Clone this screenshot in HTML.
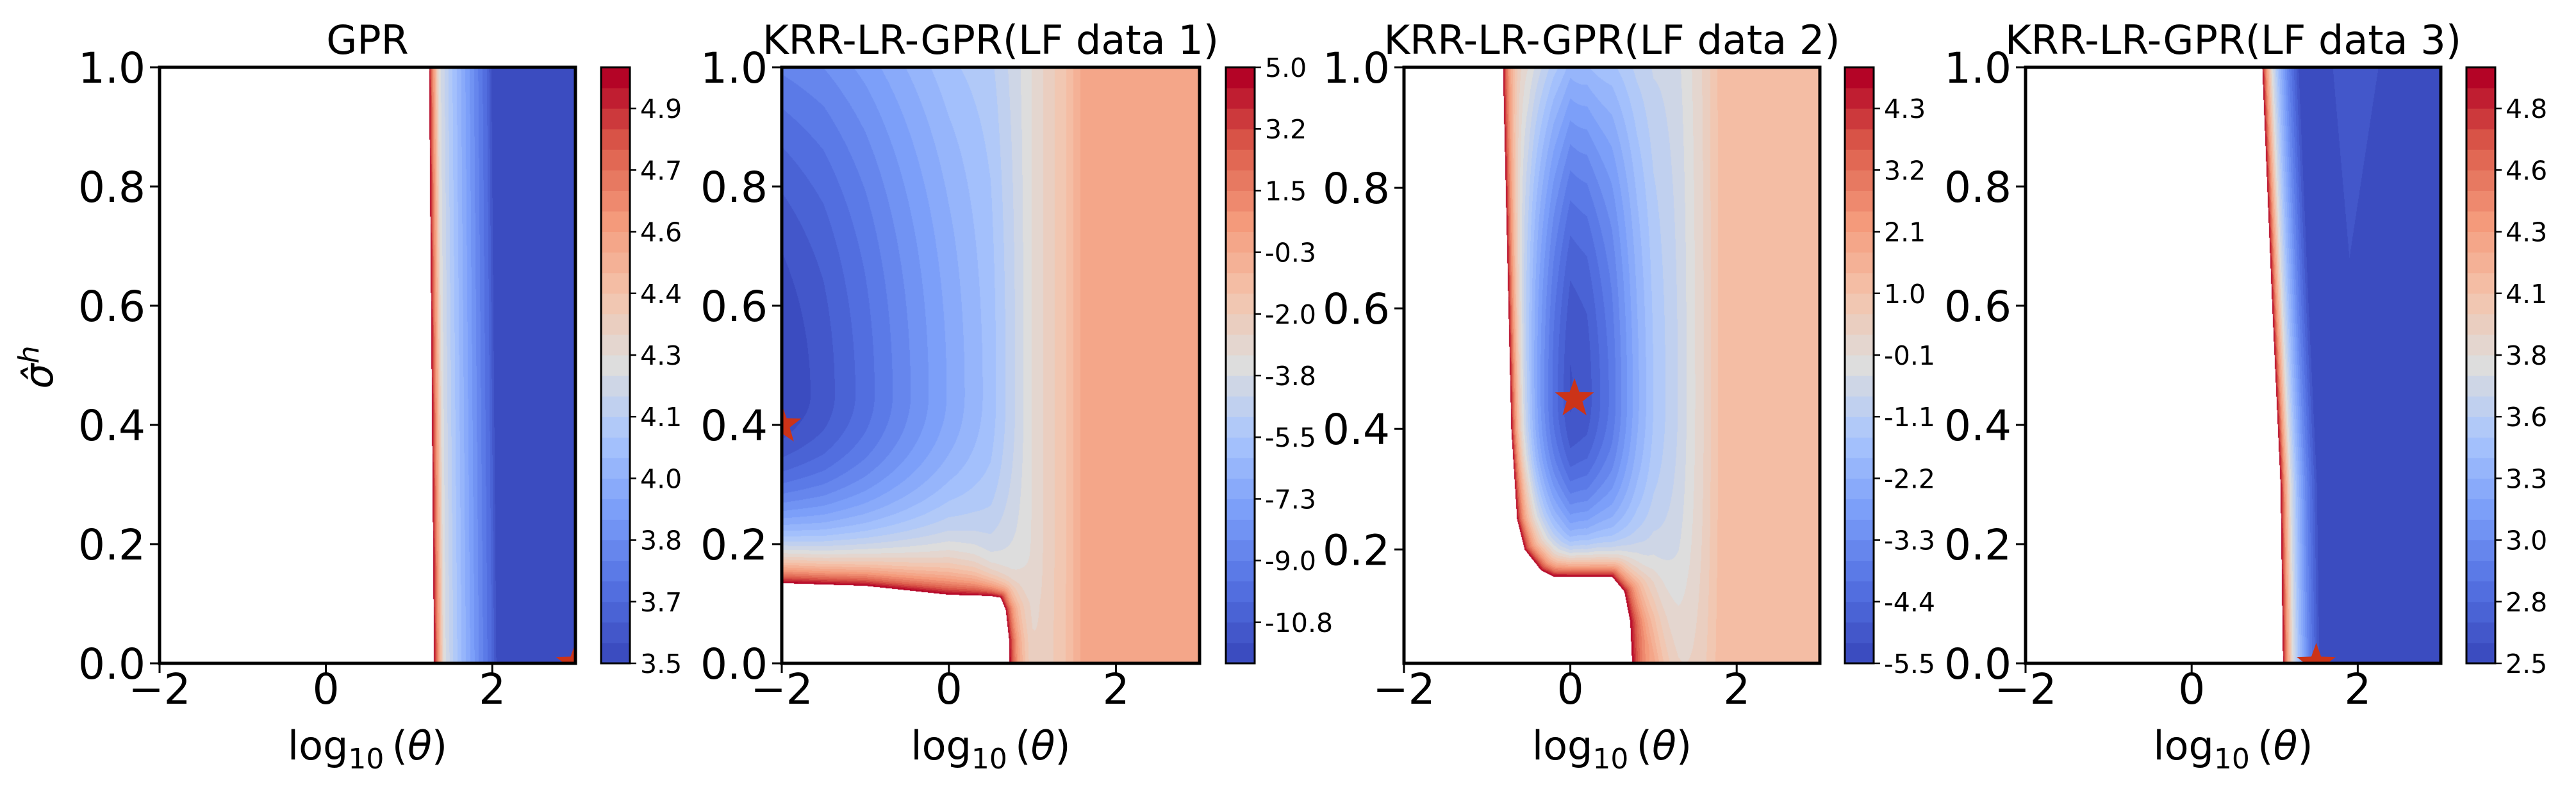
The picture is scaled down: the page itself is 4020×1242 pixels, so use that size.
<!DOCTYPE html>
<html><head><meta charset="utf-8"><style>
body{margin:0;background:#fff;}
#wrap{position:relative;width:4020px;height:1242px;overflow:hidden;background:#fff;}
canvas{position:absolute;}
svg{position:absolute;left:0;top:0;}
text{font-family:"DejaVu Sans","Liberation Sans",sans-serif;fill:#000;}
</style></head><body>
<div id="wrap">
<svg id="svg" width="4020" height="1242"></svg>
</div>
<script>
// ---- data ----
const titles = ["GPR","KRR-LR-GPR(LF data 1)","KRR-LR-GPR(LF data 2)","KRR-LR-GPR(LF data 3)"];
const xTicks = [-2,0,2];
const xTickLabels = ["\u22122","0","2"];
const yTicksA = [0,0.2,0.4,0.6,0.8,1.0];
const yTicksB = [0.2,0.4,0.6,0.8,1.0];
const yMins = [0,0,0.011,0];
const cbLabels1 = ["3.5","3.7","3.8","4.0","4.1","4.3","4.4","4.6","4.7","4.9"];
const cbLabels2 = ["-10.8","-9.0","-7.3","-5.5","-3.8","-2.0","-0.3","1.5","3.2","5.0"];
const cbLabels3 = ["-5.5","-4.4","-3.3","-2.2","-1.1","-0.1","1.0","2.1","3.2","4.3"];
const cbLabels4 = ["2.5","2.8","3.0","3.3","3.6","3.8","4.1","4.3","4.6","4.8"];
const nLevels = 29;
// panel 1 profile
const p1Dx = [0,0.04,0.12,0.25,0.4,0.55,0.7,0.76,3];
const p1V  = [1.0,0.8,0.5,0.4,0.3,0.2,0.1,0.02,0.02];
const p1By = [0,1]; const p1Bx = [1.3,1.24];
// panel 2
const p2X = [-2,-1.5,-1,-0.5,0,0.5,0.8,1.0,1.2,1.4,1.6,3];
const p2V = [0.0,0.05,0.12,0.2,0.28,0.36,0.45,0.52,0.57,0.62,0.7,0.7];
const p2HoleX = [-2.1,-2.1,-1,0,0.5,0.62,0.68,0.72,0.74];
const p2HoleY = [-0.1,0.135,0.13,0.115,0.113,0.11,0.09,0.04,-0.1];
// panel 3
const p3X = [-1,-0.5,-0.2,0,0.2,0.5,0.8,1.0,1.3,1.6,1.8,3];
const p3V = [0.45,0.3,0.12,0.03,0.05,0.15,0.3,0.38,0.45,0.55,0.63,0.63];
const p3HoleX = [-2.1,-2.1,-0.81,-0.81,-0.71,-0.64,-0.55,-0.35,-0.2,0.5,0.65,0.72,0.78];
const p3HoleY = [-0.1,1.1,1.1,1.0,0.4,0.25,0.2,0.165,0.155,0.155,0.13,0.08,-0.1];
// panel 4
const p4By = [0,0.3,0.6,1]; const p4Bx = [1.1,1.07,0.97,0.85];
const p4Dx = [0,0.05,0.12,0.2,0.3,0.45,3];
const p4V  = [1,0.75,0.5,0.35,0.2,0.02,0.02];
// stars
const starX = [3.0,-2.0,0.05,1.5];
const starY = [0.0,0.4,0.45,0.0];

// ---- layout ----
const panels=[{L:249,R:898,C:938},{L:1220,R:1872,C:1913},{L:2191,R:2840,C:2879},{L:3161,R:3809,C:3849}];
const T=105,B=1035,CBW=45,XMIN=-2,XMAX=3;
const cm=[[0,59,76,192],[0.125,86,116,228],[0.25,124,159,249],[0.375,170,198,253],[0.5,221,221,221],[0.625,244,195,171],[0.75,244,154,123],[0.875,222,96,77],[1,180,4,38]];
function cmap(t){t=Math.max(0,Math.min(1,t));for(let i=1;i<cm.length;i++){if(t<=cm[i][0]){const a=cm[i-1],b=cm[i],f=(t-a[0])/(b[0]-a[0]);return [a[1]+f*(b[1]-a[1]),a[2]+f*(b[2]-a[2]),a[3]+f*(b[3]-a[3])];}}return cm[8].slice(1);}
function interp(xs,vs,x){if(x<=xs[0])return vs[0];for(let i=1;i<xs.length;i++){if(x<=xs[i]){const f=(x-xs[i-1])/(xs[i]-xs[i-1]);return vs[i-1]+f*(vs[i]-vs[i-1]);}}return vs[vs.length-1];}
const pxX=649/5, pxY=930;
function inPoly(px,py,X,Y){let ins=false;for(let i=0,j=X.length-1;i<X.length;j=i++){if(((Y[i]>py)!=(Y[j]>py))&&(px<(X[j]-X[i])*(py-Y[i])/(Y[j]-Y[i])+X[i]))ins=!ins;}return ins;}
function polyDist(x,y,X,Y){let best=1e9;const px=x*pxX,py=y*pxY;for(let i=0;i<X.length;i++){const j=(i+1)%X.length;
 const ax=X[i]*pxX,ay=Y[i]*pxY,bx=X[j]*pxX,by=Y[j]*pxY;const dx=bx-ax,dy=by-ay;const L=dx*dx+dy*dy;
 let t=L?((px-ax)*dx+(py-ay)*dy)/L:0;t=Math.max(0,Math.min(1,t));const d=Math.hypot(px-ax-t*dx,py-ay-t*dy);if(d<best)best=d;}return best;}
function f1(x,y){const xb=interp(p1By,p1Bx,y);if(x<xb)return null;return interp(p1Dx,p1V,x-xb);}
function f2(x,y){if(inPoly(x,y,p2HoleX,p2HoleY))return null;const d=polyDist(x,y,p2HoleX,p2HoleY);
 let v=interp(p2X,p2V,x); const w=interp([-2,0,1,3],[1,0.5,0,0],x);
 if(y>0.45) v+=0.18*w*((y-0.45)/0.55)**2; else v+=0.3*w*((0.45-y)/0.22)**2;
 v=Math.min(v,0.7);
 const dec=interp([0.3,0.75],[24,14],x);
 return v+(1-v)*Math.exp(-d/dec);}
function f3(x,y){if(inPoly(x,y,p3HoleX,p3HoleY))return null;const d=polyDist(x,y,p3HoleX,p3HoleY);
 let v=interp(p3X,p3V,x);const w=Math.exp(-(((x-0.05)/0.8)**2));
 if(y>0.45)v+=0.3*w*((y-0.45)/0.55)**2;else v+=0.35*w*((0.45-y)/0.25)**2;
 v=Math.min(v,0.63);
 const dec=interp([0.15,0.35],[20,14],y);
 return v+(1-v)*Math.exp(-d/dec);}
function f4(x,y){const xb=interp(p4By,p4Bx,y);if(x<xb)return null;let v=interp(p4Dx,p4V,x-xb);
 if(y>0.68){const hw=(y-0.68)/0.32;if(x>1.9-0.2*hw&&x<1.9+0.35*hw)v=Math.max(v,0.05);}return v;}
const funcs=[f1,f2,f3,f4];

const wrap=document.getElementById('wrap');
const svg=document.getElementById('svg');
const NS="http://www.w3.org/2000/svg";
function el(tag,attrs,parent){const e=document.createElementNS(NS,tag);for(const k in attrs)e.setAttribute(k,attrs[k]);(parent||svg).appendChild(e);return e;}

panels.forEach((p,i)=>{
 const W=p.R-p.L,H=B-T,ymin=yMins[i];
 const cv=document.createElement('canvas');cv.width=W;cv.height=H;cv.style.left=p.L+'px';cv.style.top=T+'px';
 
 
 wrap.insertBefore(cv,svg);
 const ctx=cv.getContext('2d');const img=ctx.createImageData(W,H);
 const pal=[];for(let k=0;k<nLevels;k++)pal.push(cmap(k/(nLevels-1)));
 for(let r=0;r<H;r++){const y=1-(r+0.5)/H*(1-ymin);
  for(let c=0;c<W;c++){const x=XMIN+(c+0.5)/W*(XMAX-XMIN);const v=funcs[i](x,y);const o=(r*W+c)*4;
   if(v===null){img.data[o]=255;img.data[o+1]=255;img.data[o+2]=255;}
   else{const lv=Math.max(0,Math.min(nLevels-1,Math.floor(v*nLevels)));const col=pal[lv];img.data[o]=col[0];img.data[o+1]=col[1];img.data[o+2]=col[2];}
   img.data[o+3]=255;}}
 ctx.putImageData(img,0,0);
 const g=el('g',{});
 
 
 const sx=v=>p.L+(v-XMIN)/(XMAX-XMIN)*W, sy=v=>B-(v-ymin)/(1-ymin)*H;
 const cid='clip'+i;const cp=el('clipPath',{id:cid},g);el('rect',{x:p.L,y:T,width:W,height:H},cp);
 const cx=sx(starX[i]),cy=sy(starY[i]),R=32,r2=13;let pts=[];
 for(let k=0;k<10;k++){const a=-Math.PI/2+k*Math.PI/5;const rr=k%2?r2:R;pts.push((cx+rr*Math.cos(a)).toFixed(1)+','+(cy+rr*Math.sin(a)).toFixed(1));}
 const st=el('polygon',{points:pts.join(' '),fill:'#cc3318','clip-path':'url(#'+cid+')'},g);
 
 
 const fr=el('rect',{x:p.L,y:T,width:W,height:H,fill:'none',stroke:'#000','stroke-width':5},g);
 
 
 xTicks.forEach((t,k)=>{const X=sx(t);el('line',{x1:X,x2:X,y1:B,y2:B+15,stroke:'#000','stroke-width':3},g);
  const tx=el('text',{x:X,y:1098,'font-size':66,'text-anchor':'middle'},g);tx.textContent=xTickLabels[k];
  
  });
 const yt=i===2?yTicksB:yTicksA;
 yt.forEach(t=>{const Y=sy(t);el('line',{x1:p.L-15,x2:p.L,y1:Y,y2:Y,stroke:'#000','stroke-width':3},g);
  const tx=el('text',{x:p.L-22,y:Y+24,'font-size':66,'text-anchor':'end'},g);tx.textContent=t.toFixed(1);
  
  });
 const ti=el('text',{x:(p.L+p.R)/2,y:84,'font-size':62,'text-anchor':'middle'},g);ti.textContent=titles[i];
 
 
 const xl=el('text',{x:(p.L+p.R)/2,y:1185,'font-size':62,'text-anchor':'middle'},g);
 xl.innerHTML='log<tspan font-size="44" dy="14">10</tspan><tspan dy="-14">\u2009(</tspan><tspan font-style="italic">\u03b8</tspan>)';
 
 
 const cg=el('g',{},g);
 
 
 const bh=H/nLevels;
 for(let k=0;k<nLevels;k++){const col=pal[k];el('rect',{x:p.C,y:B-(k+1)*bh-0.5,width:CBW,height:bh+1,fill:'rgb('+col.map(Math.round).join(',')+')'},cg);}
 el('rect',{x:p.C,y:T,width:CBW,height:H,fill:'none',stroke:'#000','stroke-width':3},cg);
 const labs=[cbLabels1,cbLabels2,cbLabels3,cbLabels4][i];
 labs.forEach((s,k)=>{const Y=i===1?T+(9-k)*3*bh:B-k*3*bh;
  el('line',{x1:p.C+CBW,x2:p.C+CBW+10,y1:Y,y2:Y,stroke:'#000','stroke-width':2.5},cg);
  const tx=el('text',{x:p.C+CBW+16,y:Y+15,'font-size':41},cg);tx.textContent=s;
  
  });
});
const yl=el('text',{x:0,y:0,'font-size':62,'text-anchor':'middle',transform:'translate(82,573) rotate(-90)'});
yl.innerHTML='<tspan font-style="italic">\u03c3\u0302</tspan><tspan font-style="italic" font-size="44" dy="-22">h</tspan>';


</script>
</body></html>
